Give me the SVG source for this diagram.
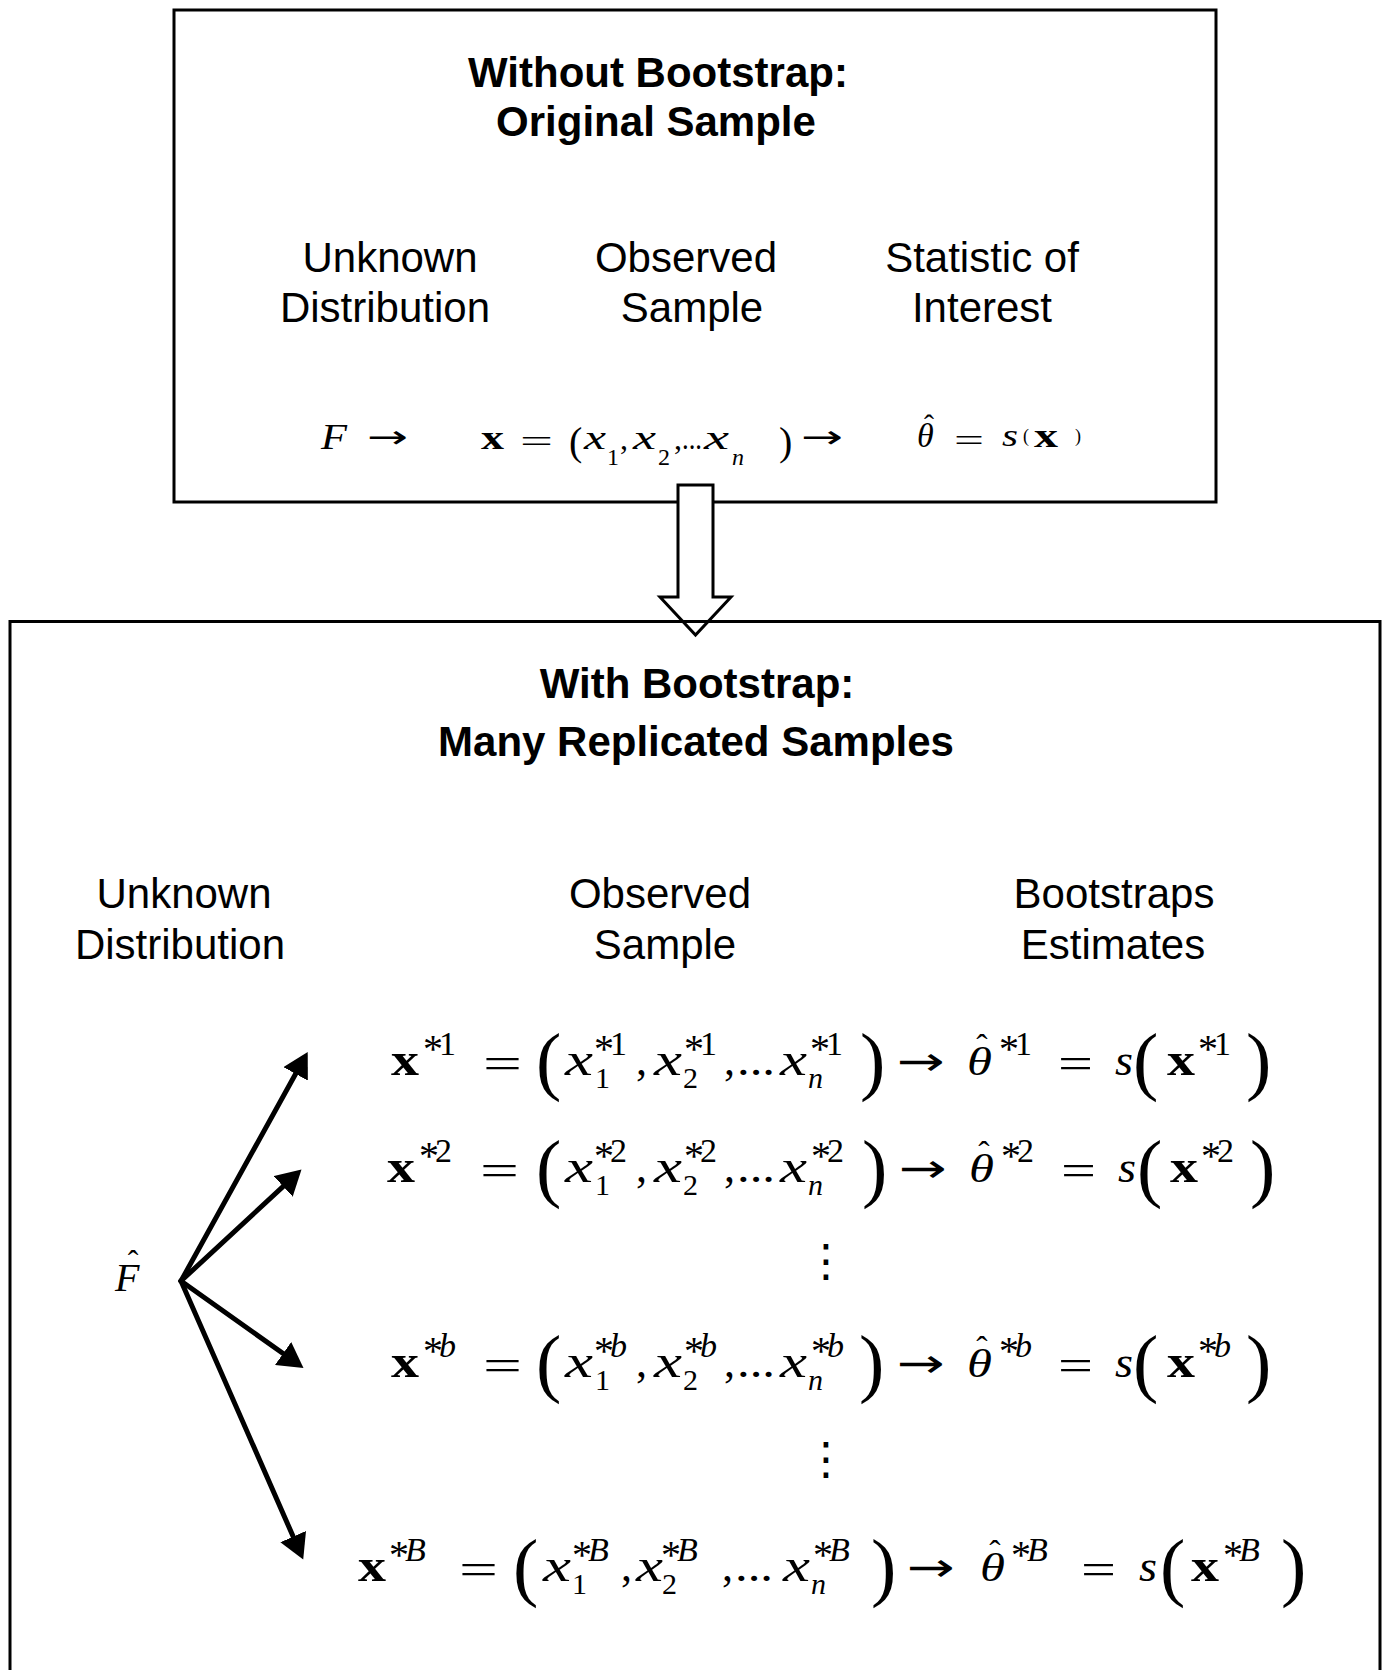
<svg xmlns="http://www.w3.org/2000/svg" width="1382" height="1670" viewBox="0 0 1382 1670">
<style>
.box{fill:#fff;stroke:#000;stroke-width:3}
.t{font-family:"Liberation Sans",Arial,sans-serif;font-size:42px;fill:#000;text-anchor:middle}
.tb{font-weight:bold}
.mi{font-family:"Liberation Serif","Times New Roman",serif;font-style:italic;fill:#000}
.mr{font-family:"Liberation Serif","DejaVu Serif",serif;fill:#000}
.mb{font-family:"Liberation Serif","Times New Roman",serif;font-weight:bold;fill:#000}
.ar{font-family:"DejaVu Sans",sans-serif;fill:#000}
.it{font-style:italic}
.hat{font-family:"Liberation Serif",serif;fill:#000;text-anchor:middle}
.s44{font-size:44px}.s46{font-size:46px}.s30{font-size:30px}.s34{font-size:34px}.s36{font-size:36px}
.s40{font-size:40px}.s41{font-size:41px}.s76{font-size:76px}.s32{font-size:32px}.s24{font-size:24px}.s18{font-size:18px}
.conn{stroke:#000;stroke-width:5;fill:none;stroke-linecap:round;marker-end:url(#ah)}
.vd{font-family:"DejaVu Sans",sans-serif;font-size:45px;fill:#000;text-anchor:middle}
</style>
<defs>
<marker id="ah" markerUnits="userSpaceOnUse" markerWidth="26" markerHeight="28" refX="13" refY="14" orient="auto">
<path d="M0,0 L25,14 L0,28 Z" fill="#000"/>
</marker>
</defs>
<rect width="1382" height="1670" fill="#fff"/>

<g id="box-original">
<rect class="box" x="174" y="10" width="1042" height="492"/>
<text class="t tb" x="658" y="87">Without Bootstrap:</text>
<text class="t tb" x="656" y="136">Original Sample</text>
<text class="t" x="390" y="272">Unknown</text>
<text class="t" x="385" y="322">Distribution</text>
<text class="t" x="686" y="272">Observed</text>
<text class="t" x="692" y="322">Sample</text>
<text class="t" x="982" y="272">Statistic of</text>
<text class="t" x="982" y="322">Interest</text>
<g id="eq-original">
<text class="mi s36" x="321" y="449" textLength="26" lengthAdjust="spacingAndGlyphs">F</text>
<text class="ar s32" x="367" y="448" textLength="41" lengthAdjust="spacingAndGlyphs">→</text>
<text class="mb s34" x="481" y="449" textLength="23" lengthAdjust="spacingAndGlyphs">x</text>
<text class="mr s32" x="520" y="452" textLength="33" lengthAdjust="spacingAndGlyphs">=</text>
<text class="mr s40" x="569" y="455">(</text>
<text class="mi s34" x="584" y="449" textLength="22" lengthAdjust="spacingAndGlyphs">x</text>
<text class="mr s24" x="607" y="465">1</text>
<text class="mr s32" x="620" y="449">,</text>
<text class="mi s34" x="633" y="449" textLength="23" lengthAdjust="spacingAndGlyphs">x</text>
<text class="mr s24" x="658" y="465">2</text>
<text class="mr s32" x="674" y="449">,</text>
<text class="mr s32" x="682" y="449" textLength="20" lengthAdjust="spacingAndGlyphs">...</text>
<text class="mi s34" x="704" y="449" textLength="25" lengthAdjust="spacingAndGlyphs">x</text>
<text class="mi s24" x="732" y="465">n</text>
<text class="mr s40" x="779" y="455">)</text>
<text class="ar s32" x="801" y="448" textLength="42" lengthAdjust="spacingAndGlyphs">→</text>
<text class="mi s34" x="917" y="447">θ</text>
<text class="hat s30" x="929" y="435">ˆ</text>
<text class="mr s32" x="954" y="451" textLength="30" lengthAdjust="spacingAndGlyphs">=</text>
<text class="mi s32" x="1002" y="446" textLength="16" lengthAdjust="spacingAndGlyphs">s</text>
<text class="mr s18" x="1023" y="442">(</text>
<text class="mb s34" x="1034" y="447" textLength="24" lengthAdjust="spacingAndGlyphs">x</text>
<text class="mr s18" x="1075" y="442">)</text>
</g>
</g>

<g id="transition-arrow">
<path d="M678,485 L713,485 L713,597 L731,597 L695.5,635 L660,597 L678,597 Z" fill="#fff" stroke="#000" stroke-width="3" stroke-linejoin="miter"/>
</g>

<g id="box-bootstrap">
<path d="M10,1680 L10,621.5 L1380,621.5 L1380,1680" fill="none" stroke="#000" stroke-width="3"/>
<text class="t tb" x="697" y="698">With Bootstrap:</text>
<text class="t tb" x="696" y="756">Many Replicated Samples</text>
<text class="t" x="184" y="908">Unknown</text>
<text class="t" x="180" y="959">Distribution</text>
<text class="t" x="660" y="908">Observed</text>
<text class="t" x="665" y="959">Sample</text>
<text class="t" x="1114" y="908">Bootstraps</text>
<text class="t" x="1113" y="959">Estimates</text>
</g>

<g id="node-Fhat">
<text class="mi s40" x="115" y="1291">F</text>
<text class="hat s32" x="133" y="1272">ˆ</text>
</g>

<g id="eq-row-1">
<text class="mb s46" x="391" y="1075" textLength="28" lengthAdjust="spacingAndGlyphs">x</text>
<text class="mr"><tspan class="s40" x="423" y="1062">*</tspan><tspan class="s34" x="439" y="1055">1</tspan></text>
<text class="mr s44" x="483" y="1078" textLength="39" lengthAdjust="spacingAndGlyphs">=</text>
<text class="mr s76" x="536" y="1086">(</text>
<text class="mi s46" x="565" y="1075" textLength="28" lengthAdjust="spacingAndGlyphs">x</text>
<text class="mr"><tspan class="s30" x="595" y="1088">1</tspan><tspan class="s40" x="594" y="1062">*</tspan><tspan class="s34" x="610" y="1055">1</tspan></text>
<text class="mr s44" x="636" y="1075">,</text>
<text class="mi s46" x="654" y="1075" textLength="28" lengthAdjust="spacingAndGlyphs">x</text>
<text class="mr"><tspan class="s30" x="683" y="1088">2</tspan><tspan class="s40" x="684" y="1062">*</tspan><tspan class="s34" x="700" y="1055">1</tspan></text>
<text class="mr s44" x="724" y="1075">,</text>
<text class="mr s44" x="737" y="1075" textLength="38" lengthAdjust="spacingAndGlyphs">...</text>
<text class="mi s46" x="780" y="1075" textLength="27" lengthAdjust="spacingAndGlyphs">x</text>
<text class="mr"><tspan class="s30 it" x="808" y="1088">n</tspan><tspan class="s40" x="810" y="1062">*</tspan><tspan class="s34" x="826" y="1055">1</tspan></text>
<text class="mr s76" x="860" y="1086">)</text>
<text class="ar s40" x="897" y="1075" textLength="48" lengthAdjust="spacingAndGlyphs">→</text>
<text class="mi s41" x="967" y="1075" textLength="25" lengthAdjust="spacingAndGlyphs">θ</text>
<text class="hat s34" x="982" y="1058">ˆ</text>
<text class="mr"><tspan class="s40" x="999" y="1062">*</tspan><tspan class="s34" x="1015" y="1055">1</tspan></text>
<text class="mr s44" x="1058" y="1078" textLength="35" lengthAdjust="spacingAndGlyphs">=</text>
<text class="mi s44" x="1115" y="1075" textLength="18" lengthAdjust="spacingAndGlyphs">s</text>
<text class="mr s76" x="1133" y="1086">(</text>
<text class="mb s46" x="1167" y="1075" textLength="28" lengthAdjust="spacingAndGlyphs">x</text>
<text class="mr"><tspan class="s40" x="1198" y="1062">*</tspan><tspan class="s34" x="1214" y="1055">1</tspan></text>
<text class="mr s76" x="1246" y="1086">)</text>
</g>

<g id="eq-row-2">
<text class="mb s46" x="387" y="1182" textLength="28" lengthAdjust="spacingAndGlyphs">x</text>
<text class="mr"><tspan class="s40" x="419" y="1169">*</tspan><tspan class="s34" x="435" y="1162">2</tspan></text>
<text class="mr s44" x="480" y="1185" textLength="39" lengthAdjust="spacingAndGlyphs">=</text>
<text class="mr s76" x="536" y="1193">(</text>
<text class="mi s46" x="565" y="1182" textLength="28" lengthAdjust="spacingAndGlyphs">x</text>
<text class="mr"><tspan class="s30" x="595" y="1195">1</tspan><tspan class="s40" x="594" y="1169">*</tspan><tspan class="s34" x="610" y="1162">2</tspan></text>
<text class="mr s44" x="636" y="1182">,</text>
<text class="mi s46" x="654" y="1182" textLength="28" lengthAdjust="spacingAndGlyphs">x</text>
<text class="mr"><tspan class="s30" x="683" y="1195">2</tspan><tspan class="s40" x="684" y="1169">*</tspan><tspan class="s34" x="700" y="1162">2</tspan></text>
<text class="mr s44" x="724" y="1182">,</text>
<text class="mr s44" x="737" y="1182" textLength="38" lengthAdjust="spacingAndGlyphs">...</text>
<text class="mi s46" x="780" y="1182" textLength="27" lengthAdjust="spacingAndGlyphs">x</text>
<text class="mr"><tspan class="s30 it" x="808" y="1195">n</tspan><tspan class="s40" x="811" y="1169">*</tspan><tspan class="s34" x="827" y="1162">2</tspan></text>
<text class="mr s76" x="862" y="1193">)</text>
<text class="ar s40" x="899" y="1182" textLength="48" lengthAdjust="spacingAndGlyphs">→</text>
<text class="mi s41" x="969" y="1182" textLength="25" lengthAdjust="spacingAndGlyphs">θ</text>
<text class="hat s34" x="984" y="1165">ˆ</text>
<text class="mr"><tspan class="s40" x="1001" y="1169">*</tspan><tspan class="s34" x="1017" y="1162">2</tspan></text>
<text class="mr s44" x="1061" y="1185" textLength="35" lengthAdjust="spacingAndGlyphs">=</text>
<text class="mi s44" x="1118" y="1182" textLength="18" lengthAdjust="spacingAndGlyphs">s</text>
<text class="mr s76" x="1137" y="1193">(</text>
<text class="mb s46" x="1170" y="1182" textLength="28" lengthAdjust="spacingAndGlyphs">x</text>
<text class="mr"><tspan class="s40" x="1201" y="1169">*</tspan><tspan class="s34" x="1217" y="1162">2</tspan></text>
<text class="mr s76" x="1250" y="1193">)</text>
</g>

<g id="vdots-1"><text class="vd" x="826" y="1276">⋮</text></g>

<g id="eq-row-b">
<text class="mb s46" x="391" y="1377" textLength="28" lengthAdjust="spacingAndGlyphs">x</text>
<text class="mr"><tspan class="s40" x="423" y="1364">*</tspan><tspan class="s34 it" x="439" y="1357">b</tspan></text>
<text class="mr s44" x="483" y="1380" textLength="39" lengthAdjust="spacingAndGlyphs">=</text>
<text class="mr s76" x="536" y="1388">(</text>
<text class="mi s46" x="565" y="1377" textLength="28" lengthAdjust="spacingAndGlyphs">x</text>
<text class="mr"><tspan class="s30" x="595" y="1390">1</tspan><tspan class="s40" x="594" y="1364">*</tspan><tspan class="s34 it" x="610" y="1357">b</tspan></text>
<text class="mr s44" x="636" y="1377">,</text>
<text class="mi s46" x="654" y="1377" textLength="28" lengthAdjust="spacingAndGlyphs">x</text>
<text class="mr"><tspan class="s30" x="683" y="1390">2</tspan><tspan class="s40" x="684" y="1364">*</tspan><tspan class="s34 it" x="700" y="1357">b</tspan></text>
<text class="mr s44" x="724" y="1377">,</text>
<text class="mr s44" x="737" y="1377" textLength="38" lengthAdjust="spacingAndGlyphs">...</text>
<text class="mi s46" x="780" y="1377" textLength="27" lengthAdjust="spacingAndGlyphs">x</text>
<text class="mr"><tspan class="s30 it" x="808" y="1390">n</tspan><tspan class="s40" x="811" y="1364">*</tspan><tspan class="s34 it" x="827" y="1357">b</tspan></text>
<text class="mr s76" x="859" y="1388">)</text>
<text class="ar s40" x="897" y="1377" textLength="48" lengthAdjust="spacingAndGlyphs">→</text>
<text class="mi s41" x="967" y="1377" textLength="25" lengthAdjust="spacingAndGlyphs">θ</text>
<text class="hat s34" x="982" y="1360">ˆ</text>
<text class="mr"><tspan class="s40" x="999" y="1364">*</tspan><tspan class="s34 it" x="1015" y="1357">b</tspan></text>
<text class="mr s44" x="1058" y="1380" textLength="35" lengthAdjust="spacingAndGlyphs">=</text>
<text class="mi s44" x="1115" y="1377" textLength="18" lengthAdjust="spacingAndGlyphs">s</text>
<text class="mr s76" x="1133" y="1388">(</text>
<text class="mb s46" x="1167" y="1377" textLength="28" lengthAdjust="spacingAndGlyphs">x</text>
<text class="mr"><tspan class="s40" x="1198" y="1364">*</tspan><tspan class="s34 it" x="1214" y="1357">b</tspan></text>
<text class="mr s76" x="1246" y="1388">)</text>
</g>

<g id="vdots-2"><text class="vd" x="826" y="1474">⋮</text></g>

<g id="eq-row-B">
<text class="mb s46" x="358" y="1581" textLength="28" lengthAdjust="spacingAndGlyphs">x</text>
<text class="mr"><tspan class="s40" x="389" y="1568">*</tspan><tspan class="s34 it" x="405" y="1561">B</tspan></text>
<text class="mr s44" x="459" y="1584" textLength="39" lengthAdjust="spacingAndGlyphs">=</text>
<text class="mr s76" x="513" y="1592">(</text>
<text class="mi s46" x="543" y="1581" textLength="28" lengthAdjust="spacingAndGlyphs">x</text>
<text class="mr"><tspan class="s30" x="572" y="1594">1</tspan><tspan class="s40" x="572" y="1568">*</tspan><tspan class="s34 it" x="588" y="1561">B</tspan></text>
<text class="mr s44" x="621" y="1581">,</text>
<text class="mi s46" x="636" y="1581" textLength="27" lengthAdjust="spacingAndGlyphs">x</text>
<text class="mr"><tspan class="s30" x="662" y="1594">2</tspan><tspan class="s40" x="661" y="1568">*</tspan><tspan class="s34 it" x="677" y="1561">B</tspan></text>
<text class="mr s44" x="722" y="1581">,</text>
<text class="mr s44" x="735" y="1581" textLength="38" lengthAdjust="spacingAndGlyphs">...</text>
<text class="mi s46" x="783" y="1581" textLength="27" lengthAdjust="spacingAndGlyphs">x</text>
<text class="mr"><tspan class="s30 it" x="811" y="1594">n</tspan><tspan class="s40" x="813" y="1568">*</tspan><tspan class="s34 it" x="829" y="1561">B</tspan></text>
<text class="mr s76" x="871" y="1592">)</text>
<text class="ar s40" x="907" y="1581" textLength="48" lengthAdjust="spacingAndGlyphs">→</text>
<text class="mi s41" x="980" y="1581" textLength="25" lengthAdjust="spacingAndGlyphs">θ</text>
<text class="hat s34" x="995" y="1564">ˆ</text>
<text class="mr"><tspan class="s40" x="1011" y="1568">*</tspan><tspan class="s34 it" x="1027" y="1561">B</tspan></text>
<text class="mr s44" x="1081" y="1584" textLength="35" lengthAdjust="spacingAndGlyphs">=</text>
<text class="mi s44" x="1139" y="1581" textLength="18" lengthAdjust="spacingAndGlyphs">s</text>
<text class="mr s76" x="1160" y="1592">(</text>
<text class="mb s46" x="1191" y="1581" textLength="28" lengthAdjust="spacingAndGlyphs">x</text>
<text class="mr"><tspan class="s40" x="1223" y="1568">*</tspan><tspan class="s34 it" x="1239" y="1561">B</tspan></text>
<text class="mr s76" x="1281" y="1592">)</text>
</g>

<g id="connectors">
<line class="conn" x1="181" y1="1281" x2="301.9" y2="1062.5"/>
<line class="conn" x1="181" y1="1281" x2="292.7" y2="1177.6"/>
<line class="conn" x1="181" y1="1281" x2="293.7" y2="1361"/>
<line class="conn" x1="181" y1="1281" x2="298.4" y2="1548.5"/>
</g>
</svg>
